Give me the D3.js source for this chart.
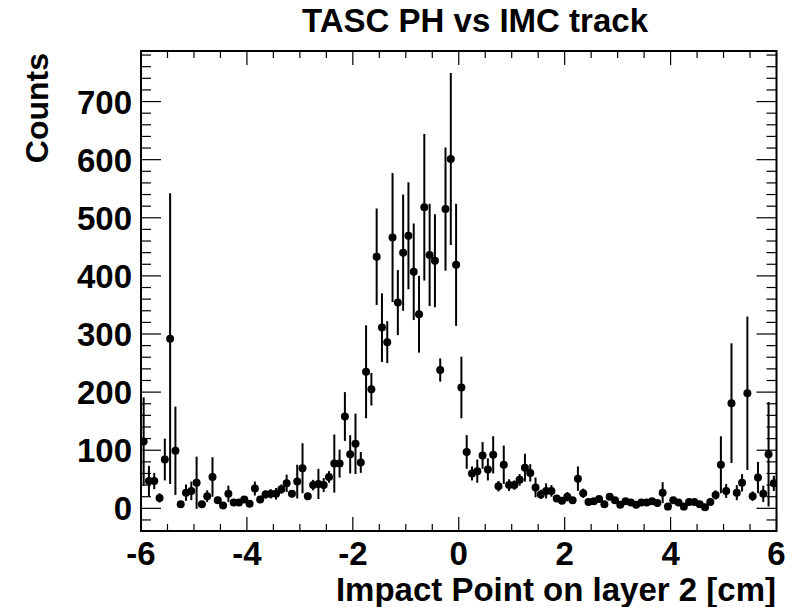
<!DOCTYPE html>
<html>
<head>
<meta charset="utf-8">
<script src="https://cdn.jsdelivr.net/npm/d3@7"></script>
<style>
  html, body { margin: 0; padding: 0; background: #fff; }
  svg { display: block; }
  text { font-family: "Liberation Sans", Arial, Helvetica, sans-serif; font-weight: bold; fill: #000; }
</style>
</head>
<body>
<svg id="chart" width="795" height="607"></svg>
<script>
// ---- data ----
const binLow = -6;
const binWidth = 0.1;
const counts = [
  115, 47, 47, 18, 84, 292, 99, 7, 27, 30,
  44, 7, 21, 54, 14, 5, 25, 10, 10, 15,
  8, 34, 15, 24, 25, 25, 33, 43, 25, 46,
  69, 21, 40, 42, 40, 54, 77, 77, 158, 93,
  111, 79, 235, 205, 433, 311, 286, 466, 354, 440,
  469, 407, 334, 518, 436, 426, 238, 515, 601, 419,
  208, 97, 60, 64, 91, 67, 92, 38, 75, 40,
  40, 49, 70, 61, 36, 24, 30, 30, 17, 13,
  20, 14, 51, 26, 11, 12, 16, 7, 20, 14,
  6, 12, 10, 6, 10, 10, 12, 9, 27, 3,
  14, 10, 3, 11, 11, 7, 2, 11, 23, 75,
  30, 181, 27, 44, 198, 21, 53, 25, 93, 43
];
const errors = [
  76, 26, 14, 8, 36, 250, 76, 5, 14, 16,
  45, 5, 10, 34, 6, 4, 14, 5, 5, 6,
  5, 12, 6, 7, 8, 10, 8, 15, 6, 29,
  43, 6, 9, 26, 12, 10, 50, 24, 42, 33,
  52, 18, 80, 28, 83, 59, 36, 111, 56, 100,
  92, 83, 66, 126, 88, 80, 20, 106, 148, 105,
  53, 29, 12, 20, 23, 19, 32, 9, 33, 10,
  8, 10, 24, 15, 17, 8, 13, 10, 5, 5,
  8, 5, 21, 8, 4, 4, 5, 4, 6, 5,
  3, 4, 4, 3, 4, 4, 4, 4, 18, 3,
  5, 4, 3, 4, 4, 3, 3, 4, 8, 49,
  12, 103, 13, 15, 132, 8, 27, 14, 90, 13
];
const xTickLabels = [-6, -4, -2, 0, 2, 4, 6];
const yTickLabels = [0, 100, 200, 300, 400, 500, 600, 700];
const titleText = "TASC PH vs IMC track";
const xTitleText = "Impact Point on layer 2 [cm]";
const yTitleText = "Counts";

// ---- layout ----
const L = 141, R = 776.5, T = 51, B = 531;
const svg = d3.select("#chart");
const x = d3.scaleLinear().domain([-6, 6]).range([L, R]);
const y = d3.scaleLinear().domain([-39, 787]).range([B, T]);

const points = counts.map((v, i) => ({
  lo: binLow + i * binWidth,
  hi: binLow + (i + 1) * binWidth,
  c: binLow + (i + 0.5) * binWidth,
  v: v,
  e: errors[i]
}));

// ---- ticks ----
const xMinor = d3.range(-6, 6.001, 0.5).filter(t => !xTickLabels.includes(Math.round(t * 10) / 10));
const yMinor = d3.range(-20, 787, 20).filter(t => t % 100 !== 0);

const ticks = svg.append("g").attr("stroke", "#000").attr("stroke-width", 1.2);
xTickLabels.forEach(t => {
  ticks.append("line").attr("x1", x(t)).attr("x2", x(t)).attr("y1", B).attr("y2", B - 14);
  ticks.append("line").attr("x1", x(t)).attr("x2", x(t)).attr("y1", T).attr("y2", T + 14);
});
xMinor.forEach(t => {
  ticks.append("line").attr("x1", x(t)).attr("x2", x(t)).attr("y1", B).attr("y2", B - 7);
  ticks.append("line").attr("x1", x(t)).attr("x2", x(t)).attr("y1", T).attr("y2", T + 7);
});
yTickLabels.forEach(t => {
  ticks.append("line").attr("x1", L).attr("x2", L + 20).attr("y1", y(t)).attr("y2", y(t));
  ticks.append("line").attr("x1", R).attr("x2", R - 20).attr("y1", y(t)).attr("y2", y(t));
});
yMinor.forEach(t => {
  ticks.append("line").attr("x1", L).attr("x2", L + 10).attr("y1", y(t)).attr("y2", y(t));
  ticks.append("line").attr("x1", R).attr("x2", R - 10).attr("y1", y(t)).attr("y2", y(t));
});

// ---- data marks ----
svg.append("clipPath").attr("id", "clip")
  .append("rect").attr("x", L).attr("y", T).attr("width", R - L).attr("height", B - T);
const g = svg.append("g").attr("clip-path", "url(#clip)");
g.selectAll("line.ev").data(points).join("line").attr("class", "ev")
  .attr("x1", d => x(d.c)).attr("x2", d => x(d.c))
  .attr("y1", d => y(d.v - d.e)).attr("y2", d => y(d.v + d.e))
  .attr("stroke", "#000").attr("stroke-width", 2);
g.selectAll("line.eh").data(points).join("line").attr("class", "eh")
  .attr("x1", d => x(d.lo)).attr("x2", d => x(d.hi))
  .attr("y1", d => y(d.v)).attr("y2", d => y(d.v))
  .attr("stroke", "#000").attr("stroke-width", 2);
g.selectAll("circle").data(points).join("circle")
  .attr("cx", d => x(d.c)).attr("cy", d => y(d.v)).attr("r", 4)
  .attr("fill", "#000");

// ---- frame ----
svg.append("rect").attr("x", L).attr("y", T).attr("width", R - L).attr("height", B - T)
  .attr("fill", "none").attr("stroke", "#000").attr("stroke-width", 2);

// ---- labels ----
svg.append("g").selectAll("text").data(xTickLabels).join("text")
  .attr("x", d => x(d)).attr("y", 565)
  .attr("text-anchor", "middle").attr("font-size", 33)
  .text(d => d);
svg.append("g").selectAll("text").data(yTickLabels).join("text")
  .attr("x", 132).attr("y", d => y(d) + 12)
  .attr("text-anchor", "end").attr("font-size", 33)
  .text(d => d);

svg.append("text").attr("x", 475).attr("y", 32).attr("text-anchor", "middle")
  .attr("font-size", 33).text(titleText);
svg.append("text").attr("x", 776).attr("y", 601).attr("text-anchor", "end")
  .attr("font-size", 33).text(xTitleText);
svg.append("text").attr("transform", "translate(48,53) rotate(-90)")
  .attr("text-anchor", "end").attr("font-size", 32).text(yTitleText);
</script>
</body>
</html>
